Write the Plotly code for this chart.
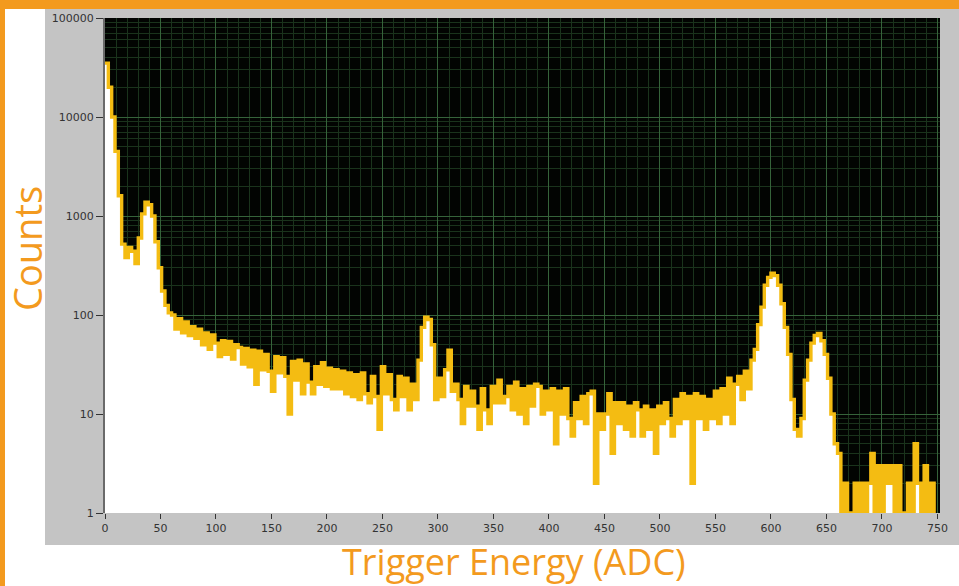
import plotly.graph_objects as go

# ---------------- data ----------------
BIN_WIDTH = 3  # ADC channels per bin
# counts per bin, bins start at 0, 3, 6, ... 747
counts_low = [35000, 20000, 10000, 4500, 1600, 520, 380, 480, 440, 330,
              600, 1050, 1380, 1300, 1000, 550, 300, 175, 125, 105]
counts_mid = [100, 72, 92, 66, 85, 62, 76, 58, 72, 50,
              66, 45, 63, 52, 38, 55, 40, 54, 36, 50,
              47, 32, 46, 30, 44, 20, 43, 28, 40, 27,
              17, 38, 26, 37, 24, 10, 34, 22, 35, 16,
              32, 21, 16, 30, 20, 33, 19, 29, 18, 28,
              18, 27, 16, 26, 15, 25, 14, 26, 16, 13,
              24, 15, 7, 30, 16, 25, 14, 11, 24, 15,
              23, 11, 20, 14, 35, 75, 95, 90, 50, 14,
              23, 15, 28, 44, 17, 20, 14, 8, 19, 12,
              17, 12, 7, 18, 11, 8, 19, 13, 22, 13,
              15, 19, 11, 21, 10, 18, 8, 19, 12, 20,
              19, 10, 17, 11, 18, 5, 17, 10, 18, 9,
              6, 13, 9, 15, 8, 16, 17, 2, 10, 7,
              10, 16, 4, 13, 8, 13, 7, 12, 6, 13,
              11, 6, 12, 7, 11, 4, 12, 8, 13, 9,
              6, 14, 8, 16, 9, 15, 2, 16, 9, 15,
              7, 14, 9, 17, 8, 18, 10, 23, 8, 20,
              24, 14, 27, 18, 35, 45, 80, 120, 200, 240,
              265, 250, 200, 130, 75, 40, 14, 7, 6, 9,
              22, 35, 52, 62, 65, 55, 40, 23, 10, 5]
counts_tail = [4, 1, 2, 1, 0, 2, 0, 2, 0, 2,
               4, 1, 3, 1, 3, 2, 3, 1, 3, 1,
               0, 2, 1, 5, 2, 0, 3, 1, 2, 0]
counts = counts_low + counts_mid + counts_tail
bin_start = [i * BIN_WIDTH for i in range(len(counts))]

y_tick_vals = [1, 10, 100, 1000, 10000, 100000]
y_tick_text = ["1", "10", "100", "1000", "10000", "100000"]
x_tick_vals = [0, 50, 100, 150, 200, 250, 300, 350, 400, 450, 500, 550, 600, 650, 700, 750]

# ---------------- styling ----------------
ORANGE = "#F39A1E"
GOLD = "#F4BC12"
PANEL = "#C4C4C4"
GRID_MAJ = "#35633A"
GRID_MIN = "#1A331C"

W, H = 959, 586
L, R, T, B = 105, 19, 18, 73
pw, ph = W - L - R, H - T - B

def px(x):
    return (x - L) / pw

def py(y):
    return (H - B - y) / ph

# step outline; zero counts drawn below the axis floor
edges = bin_start + [bin_start[-1] + BIN_WIDTH]
disp = [c if c > 0 else 0.3 for c in counts]
disp = disp + [disp[-1]]
floor = [0.3] * len(edges)

fig = go.Figure()
fig.add_trace(go.Scatter(x=edges, y=floor, mode="lines", line=dict(width=0, shape="hv"),
                         hoverinfo="skip", showlegend=False))
fig.add_trace(go.Scatter(x=edges, y=disp, mode="lines", fill="tonexty", fillcolor="white",
                         line=dict(color=GOLD, width=3.4, shape="hv"), showlegend=False))

shapes = [
    dict(type="rect", xref="paper", yref="paper", x0=px(45), x1=px(960), y0=py(545), y1=py(9),
         fillcolor=PANEL, line=dict(width=0), layer="below"),
    dict(type="rect", xref="paper", yref="paper", x0=0, x1=1, y0=0, y1=1,
         fillcolor="#020402", line=dict(width=0), layer="below"),
    dict(type="rect", xref="paper", yref="paper", x0=px(-1), x1=px(960), y0=py(9), y1=py(-1),
         fillcolor=ORANGE, line=dict(width=0), layer="above"),
    dict(type="rect", xref="paper", yref="paper", x0=px(-1), x1=px(5), y0=py(587), y1=py(-1),
         fillcolor=ORANGE, line=dict(width=0), layer="above"),
]

annotations = [
    dict(text="Trigger Energy (ADC)", xref="paper", yref="paper", x=px(514), y=py(561.5),
         xanchor="center", yanchor="middle", showarrow=False,
         font=dict(family="Open Sans", size=36, color=ORANGE)),
    dict(text="Counts", xref="paper", yref="paper", x=px(27), y=py(249), textangle=-90,
         xanchor="center", yanchor="middle", showarrow=False,
         font=dict(family="Open Sans", size=38, color=ORANGE)),
]

tickfont = dict(family="DejaVu Sans", size=11, color="#333333")

fig.update_layout(
    width=W, height=H, autosize=False,
    margin=dict(l=L, r=R, t=T, b=B, pad=0),
    paper_bgcolor="white", plot_bgcolor="#020402",
    shapes=shapes, annotations=annotations,
    xaxis=dict(range=[0, 752.3], tickmode="array", tickvals=x_tick_vals,
               ticks="outside", ticklen=5, tickcolor="#333333", tickwidth=1,
               tickfont=tickfont, showgrid=True, gridcolor=GRID_MAJ, gridwidth=1,
               zeroline=False, showline=False,
               minor=dict(dtick=10, tick0=0, showgrid=True, gridcolor=GRID_MIN, ticks="")),
    yaxis=dict(type="log", range=[0, 5], tickmode="array", tickvals=y_tick_vals,
               ticktext=y_tick_text, ticks="outside", ticklen=7, tickcolor="#333333",
               tickwidth=1, tickfont=tickfont, showgrid=True, gridcolor=GRID_MAJ,
               gridwidth=1, zeroline=False, showline=True, linecolor="#6A6A6A", linewidth=2,
               minor=dict(dtick="D1", showgrid=True, gridcolor=GRID_MIN, ticks="")),
)

fig.write_html("out.html", config={"displayModeBar": False},
               post_script="document.body.style.margin='0';")
